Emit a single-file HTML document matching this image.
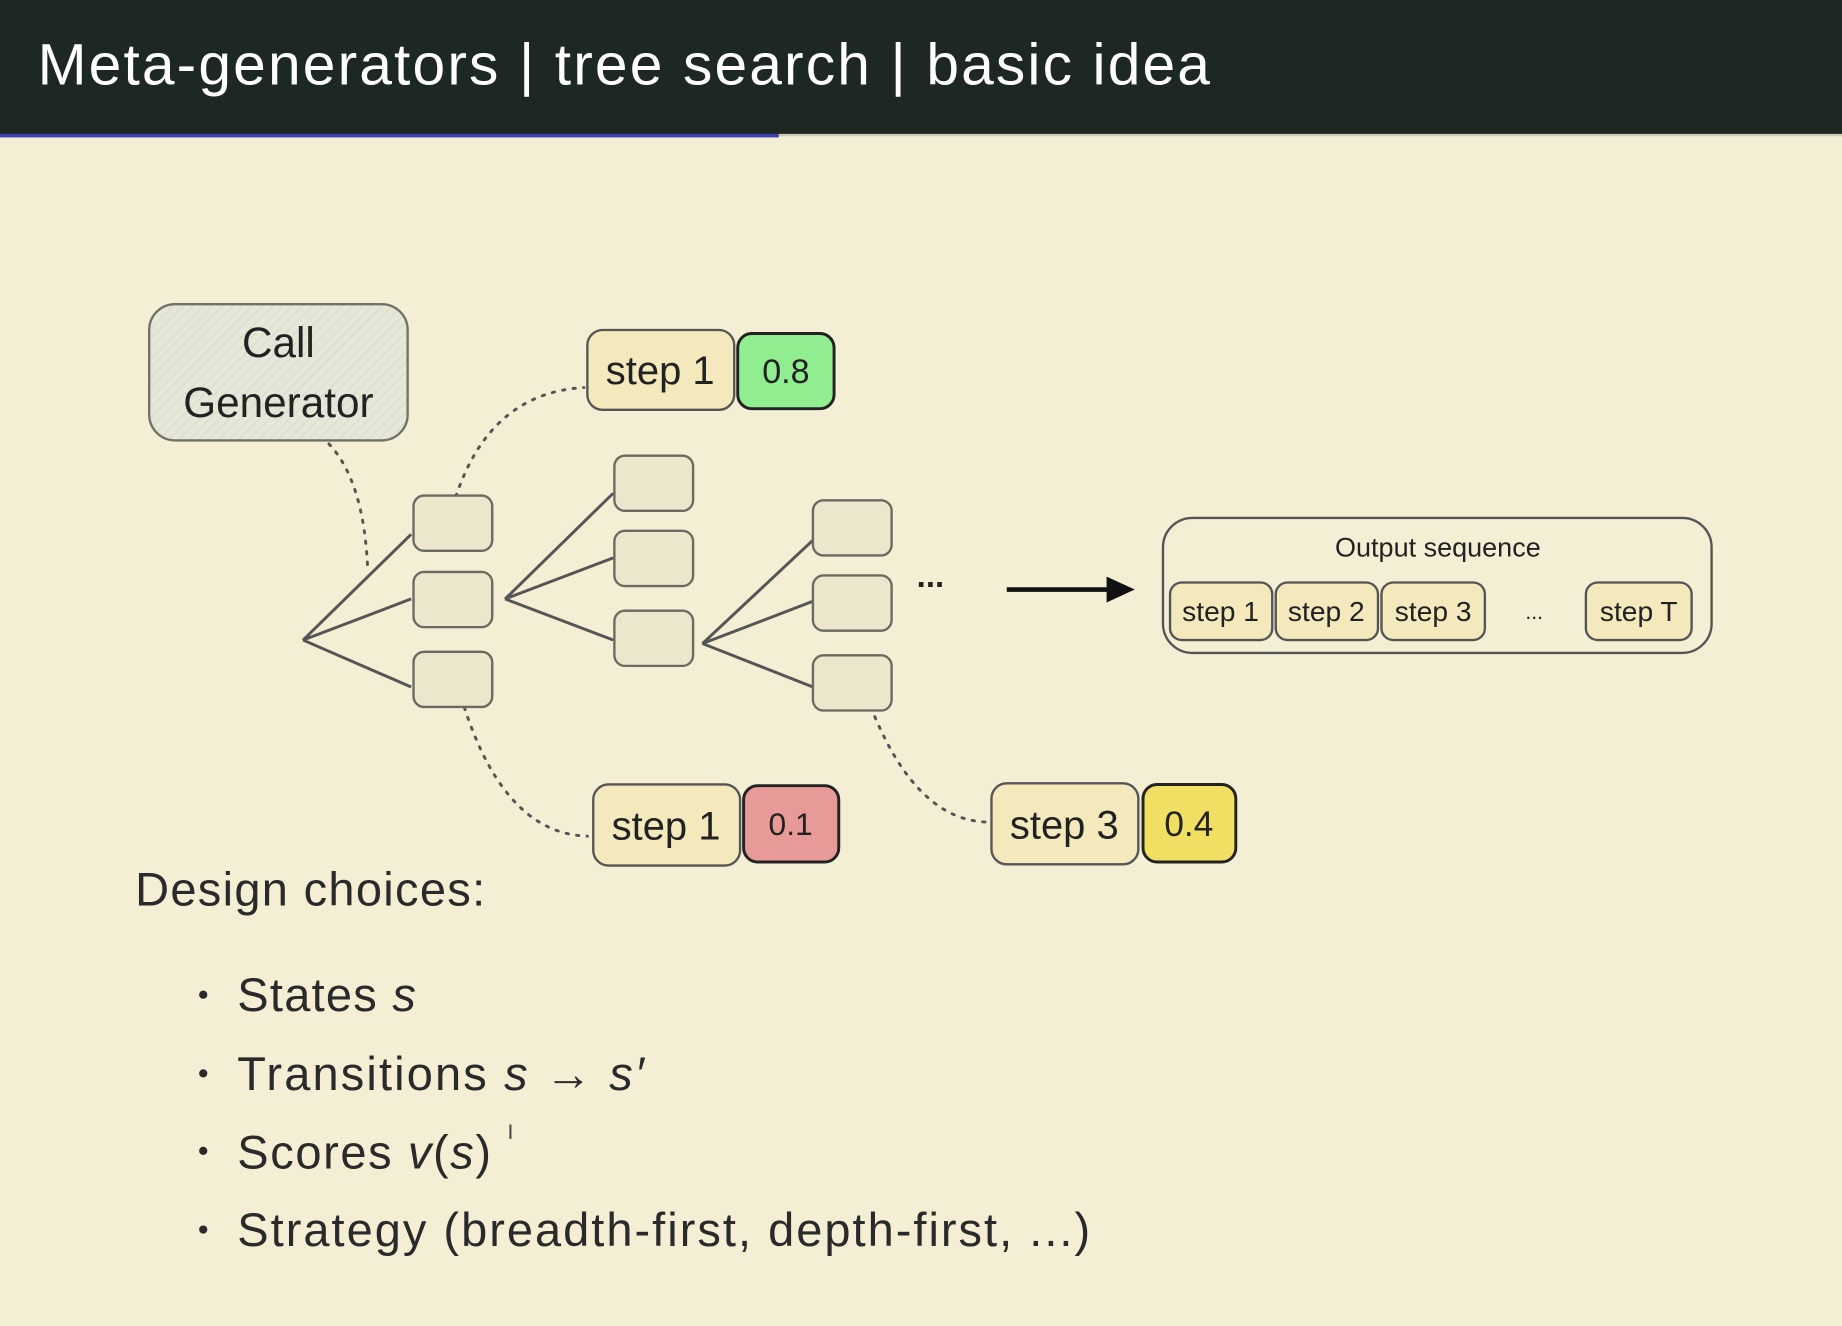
<!DOCTYPE html>
<html><head><meta charset="utf-8"><style>
html,body{margin:0;padding:0;width:1842px;height:1320px;overflow:hidden;background:#f3eed4;}
#s{position:absolute;left:0;top:0;width:1568px;height:1124px;transform:scale(1.17474,1.17438);transform-origin:0 0;font-family:"Liberation Sans","DejaVu Sans",sans-serif;}
</style></head><body><div id="s">
<svg width="1568" height="1124" xmlns="http://www.w3.org/2000/svg" font-family="Liberation Sans, DejaVu Sans, sans-serif">
<defs>
<pattern id="h" width="6" height="6" patternUnits="userSpaceOnUse" patternTransform="rotate(45)"><rect width="6" height="6" fill="#e6e7d8"/><line x1="0" y1="0" x2="0" y2="6" stroke="#d5d8c8" stroke-width="1.5"/></pattern>
</defs>
<rect width="1568" height="1124" fill="#f3eed4"/>
<rect width="1568" height="115" fill="#1d2823"/>
<rect x="0" y="114" width="663" height="3" fill="#3b3fb0"/>
<rect x="663" y="114" width="905" height="2" fill="#cfcbb8"/>
<text x="32" y="72" font-size="50" fill="#ffffff" textLength="998" lengthAdjust="spacing">Meta-generators | tree search | basic idea</text>

<rect x="127" y="259" width="220" height="116" rx="22" fill="url(#h)" stroke="#6f7268" stroke-width="2"/>
<text x="237" y="304" font-size="36" text-anchor="middle" fill="#222">Call</text>
<text x="237" y="355" font-size="36" text-anchor="middle" fill="#222">Generator</text>

<g fill="none" stroke="#555" stroke-width="2.5" stroke-dasharray="2,7" stroke-linecap="round">
<path d="M280 378 Q310 410 313 485"/>
<path d="M383 440 Q410 335 497 330"/>
<path d="M390 585 Q425 710 500 712"/>
<path d="M735 585 Q775 700 842 700"/>
</g>

<g stroke="#555" stroke-width="2.5" fill="none">
<path d="M350 455 L258 545 L350 510 M258 545 L350 585"/>
<path d="M522 420 L430 510 L522 475 M430 510 L522 545"/>
<path d="M692 460 L598 548 L692 512 M598 548 L692 585"/>
</g>
<g fill="#ebe6cc" stroke="#6a6a60" stroke-width="2">
<rect x="352" y="422" width="67" height="47" rx="9"/>
<rect x="352" y="487" width="67" height="47" rx="9"/>
<rect x="352" y="555" width="67" height="47" rx="9"/>
<rect x="523" y="388" width="67" height="47" rx="9"/>
<rect x="523" y="452" width="67" height="47" rx="9"/>
<rect x="523" y="520" width="67" height="47" rx="9"/>
<rect x="692" y="426" width="67" height="47" rx="9"/>
<rect x="692" y="490" width="67" height="47" rx="9"/>
<rect x="692" y="558" width="67" height="47" rx="9"/>
</g>
<text x="792" y="500" font-size="28" text-anchor="middle" fill="#222" font-weight="bold">...</text>
<line x1="857" y1="502" x2="945" y2="502" stroke="#111" stroke-width="4"/>
<polygon points="942,491 966,502 942,513" fill="#111"/>

<rect x="500" y="281" width="125" height="68" rx="13" fill="#f3e9bd" stroke="#555" stroke-width="2"/>
<text x="562" y="327" font-size="34" text-anchor="middle" fill="#222">step 1</text>
<rect x="628" y="284" width="82" height="64" rx="12" fill="#90ee90" stroke="#222" stroke-width="2.5"/>
<text x="669" y="326" font-size="29" text-anchor="middle" fill="#222">0.8</text>

<rect x="505" y="668" width="125" height="69" rx="13" fill="#f3e9bd" stroke="#555" stroke-width="2"/>
<text x="567" y="715" font-size="34" text-anchor="middle" fill="#222">step 1</text>
<rect x="633" y="669" width="81" height="65" rx="12" fill="#e79a98" stroke="#222" stroke-width="2.5"/>
<text x="673" y="711" font-size="27" text-anchor="middle" fill="#222">0.1</text>

<rect x="844" y="667" width="125" height="69" rx="13" fill="#f3e9bd" stroke="#555" stroke-width="2"/>
<text x="906" y="714" font-size="34" text-anchor="middle" fill="#222">step 3</text>
<rect x="973" y="668" width="79" height="66" rx="12" fill="#f0df62" stroke="#222" stroke-width="2.5"/>
<text x="1012" y="712" font-size="30" text-anchor="middle" fill="#222">0.4</text>

<rect x="990" y="441" width="467" height="115" rx="25" fill="none" stroke="#555" stroke-width="2"/>
<text x="1224" y="474" font-size="23" text-anchor="middle" fill="#222">Output sequence</text>
<g fill="#f3e9bd" stroke="#555" stroke-width="2">
<rect x="996" y="496" width="87" height="49" rx="10"/>
<rect x="1086" y="496" width="87" height="49" rx="10"/>
<rect x="1176" y="496" width="88" height="49" rx="10"/>
<rect x="1350" y="496" width="90" height="49" rx="10"/>
</g>
<g font-size="24" text-anchor="middle" fill="#222">
<text x="1039" y="529">step 1</text>
<text x="1129" y="529">step 2</text>
<text x="1220" y="529">step 3</text>
<text x="1306" y="527" font-size="18">...</text>
<text x="1395" y="529">step T</text>
</g>

<g fill="#2a2a2a">
<circle cx="173" cy="847" r="3.5"/><circle cx="173" cy="914" r="3.5"/><circle cx="173" cy="980" r="3.5"/><circle cx="173" cy="1047" r="3.5"/>
</g>
<g font-size="40" fill="#2a2a2a">
<text x="115" y="771" textLength="298" lengthAdjust="spacing">Design choices:</text>
<text x="202" y="861" textLength="152" lengthAdjust="spacing">States <tspan font-style="italic">s</tspan></text>
<text x="202" y="928" textLength="346" lengthAdjust="spacing">Transitions <tspan font-style="italic">s</tspan> → <tspan font-style="italic">s′</tspan></text>
<text x="202" y="995" textLength="216" lengthAdjust="spacing">Scores <tspan font-style="italic">v</tspan>(<tspan font-style="italic">s</tspan>)</text>
<text x="202" y="1061" textLength="726" lengthAdjust="spacing">Strategy (breadth-first, depth-first, ...)</text>
</g>
<text x="432" y="970" font-size="18" fill="#444">I</text>
</svg>
</div></body></html>
